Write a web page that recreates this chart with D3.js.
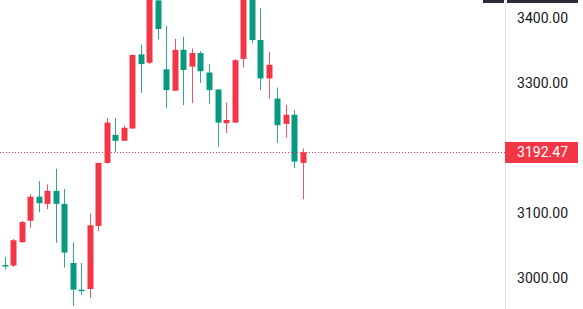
<!DOCTYPE html>
<html>
<head>
<meta charset="utf-8">
<script src="https://cdn.jsdelivr.net/npm/d3@7"></script>
<style>
  html, body { margin: 0; padding: 0; background: #fff; }
  svg { display: block; }
</style>
</head>
<body>
<script>
/* candle values, oldest first */
var opens  = [3019, 3018, 3054, 3087, 3124, 3113, 3133, 3113, 3022, 2981, 2982, 3079,
              3176, 3219, 3210, 3229, 3343, 3330, 3426, 3320, 3287, 3350, 3324, 3345,
              3315, 3289, 3237, 3238, 3336, 3440, 3365, 3306, 3275, 3236, 3250, 3176]
var highs  = [3031, 3059, 3087, 3128, 3148, 3143, 3167, 3136, 3054, 3022, 3098, 3176,
              3245, 3245, 3233, 3343, 3358, 3432, 3435, 3387, 3367, 3370, 3352, 3348,
              3328, 3289, 3269, 3336, 3445, 3448, 3414, 3347, 3292, 3265, 3257, 3198]
var lows   = [3012, 3016, 3053, 3076, 3100, 3105, 3053, 3015, 2956, 2973, 2968, 3071,
              3175, 3193, 3210, 3228, 3284, 3328, 3366, 3260, 3287, 3265, 3268, 3299,
              3267, 3201, 3222, 3238, 3323, 3360, 3288, 3275, 3207, 3215, 3168, 3120]
var closes = [3017, 3057, 3085, 3124, 3114, 3133, 3113, 3038, 2981, 2980, 3080, 3176,
              3238, 3210, 3230, 3342, 3328, 3427, 3382, 3288, 3350, 3319, 3345, 3317,
              3288, 3238, 3242, 3334, 3440, 3365, 3306, 3327, 3234, 3250, 3178, 3192.47]
var tickValues = [3000, 3100, 3300, 3400]
var lastPrice = 3192.47

function Chart() {
    this.width = 583
    this.height = 309
    this.axisX = 506       // left edge of the price scale
    this.candleWidth = 6
    this.up = "#F23645"    // rising candles are red here
    this.down = "#089981"
}

var chart = new Chart()

var svg = d3.select("body")
    .append("svg")
    .attr("width", chart.width)
    .attr("height", chart.height)

var x = d3.scaleLinear()
    .domain([0, opens.length - 1])
    .range([4.6, 302.7])

var y = d3.scaleLinear()
    .domain([3000, 3400])
    .range([277.3, 17.3])

var candles = opens.map(function(o, i) {
    return { i: i, o: o, h: highs[i], l: lows[i], c: closes[i] }
})

/* wicks */
svg.append("g")
    .selectAll("rect")
    .data(candles)
    .enter()
    .append("rect")
    .attr("x", function(d) { return Math.round(x(d.i)) })
    .attr("y", function(d) { return y(d.h) })
    .attr("width", 1)
    .attr("height", function(d) { return Math.max(1, y(d.l) - y(d.h)) })
    .attr("fill", function(d) { return d.c >= d.o ? chart.up : chart.down })
    .attr("opacity", 0.85)

/* bodies */
svg.append("g")
    .selectAll("rect")
    .data(candles)
    .enter()
    .append("rect")
    .attr("x", function(d) { return Math.round(x(d.i)) - chart.candleWidth / 2 + 0.5 })
    .attr("y", function(d) { return y(Math.max(d.o, d.c)) })
    .attr("width", chart.candleWidth)
    .attr("height", function(d) { return Math.max(1.5, Math.abs(y(d.o) - y(d.c))) })
    .attr("fill", function(d) { return d.c >= d.o ? chart.up : chart.down })

/* last price dotted line */
svg.append("line")
    .attr("x1", 0)
    .attr("x2", chart.axisX)
    .attr("y1", Math.round(y(lastPrice)) + 0.5)
    .attr("y2", Math.round(y(lastPrice)) + 0.5)
    .attr("stroke", chart.up)
    .attr("stroke-width", 1)
    .attr("stroke-dasharray", "1,2")

/* price scale */
svg.append("line")
    .attr("x1", chart.axisX - 0.5)
    .attr("x2", chart.axisX - 0.5)
    .attr("y1", 0)
    .attr("y2", chart.height)
    .attr("stroke", "#E0E3EB")
    .attr("stroke-width", 1)

var yAxis = d3.axisRight(y)
    .tickValues(tickValues)
    .tickSize(0)
    .tickPadding(0)
    .tickFormat(d3.format(".2f"))

var axisG = svg.append("g")
    .attr("transform", "translate(568,0)")
    .call(yAxis)

axisG.select(".domain").remove()
axisG.selectAll("text")
    .attr("text-anchor", "end")
    .attr("dy", "0.36em")
    .attr("font-family", "Roboto, 'Liberation Sans', sans-serif")
    .attr("font-size", "14px")
    .attr("fill", "#131722")

/* last price label */
svg.append("rect")
    .attr("x", chart.axisX - 1)
    .attr("y", Math.round(y(lastPrice)) - 10)
    .attr("width", 73)
    .attr("height", 21)
    .attr("fill", chart.up)

svg.append("text")
    .attr("x", 568)
    .attr("y", y(lastPrice))
    .attr("dy", "0.36em")
    .attr("text-anchor", "end")
    .attr("font-family", "Roboto, 'Liberation Sans', sans-serif")
    .attr("font-size", "14px")
    .attr("fill", "#fff")
    .text(d3.format(".2f")(lastPrice))

/* toolbar strip peeking in at the top */
svg.append("rect")
    .attr("x", 483).attr("y", 0)
    .attr("width", 21).attr("height", 3)
    .attr("fill", "#2A2E39")
svg.append("rect")
    .attr("x", 507).attr("y", 0)
    .attr("width", 71).attr("height", 3)
    .attr("fill", "#2A2E39")
</script>
</body>
</html>
